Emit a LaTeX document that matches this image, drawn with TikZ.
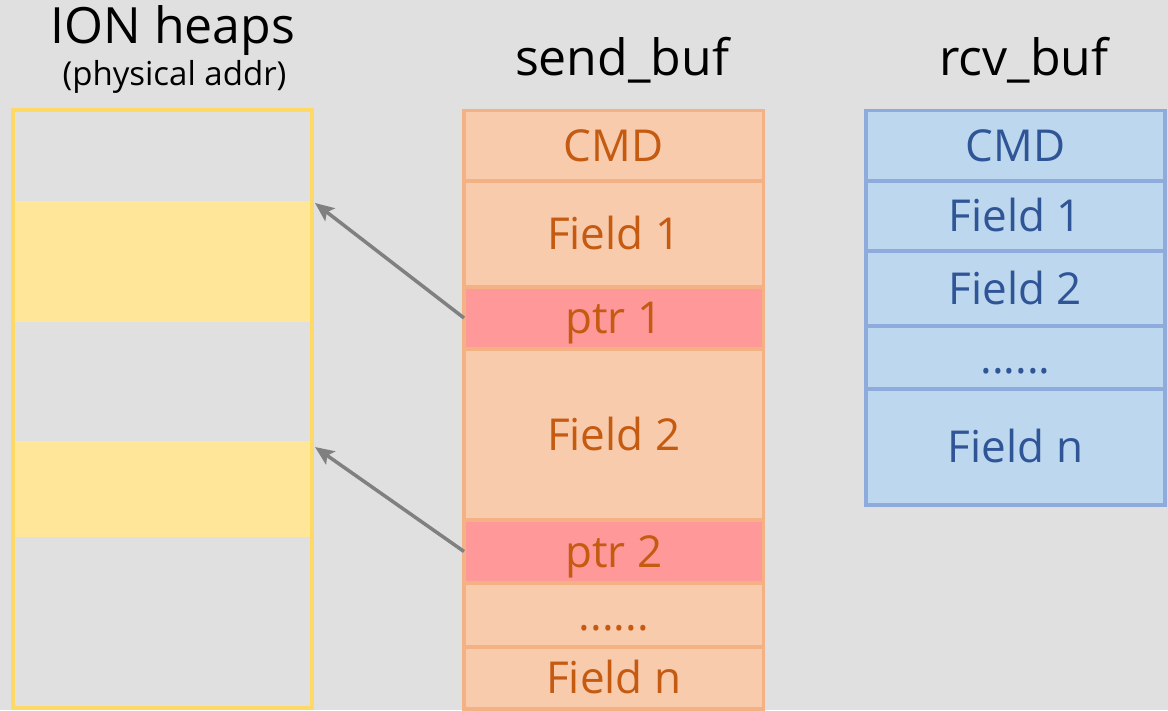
\documentclass[tikz,border=0pt]{standalone}
\usepackage{fontspec}
\setmainfont{Open Sans}
\usetikzlibrary{arrows.meta}
\definecolor{bg}{HTML}{E0E0E0}
\definecolor{heapline}{HTML}{FFD966}
\definecolor{heapfill}{HTML}{FFE699}
\definecolor{sendline}{HTML}{F4B183}
\definecolor{sendfill}{HTML}{F8CBAD}
\definecolor{ptrfill}{HTML}{FF9999}
\definecolor{sendtext}{HTML}{C55A11}
\definecolor{rcvline}{HTML}{8FAADC}
\definecolor{rcvfill}{HTML}{BDD7EE}
\definecolor{rcvtext}{HTML}{2F5597}
\definecolor{arrowgray}{HTML}{808080}
\newcommand\cellfont{\fontsize{44}{50}\selectfont}
\newcommand\titlefont{\fontsize{50}{56}\selectfont}
\newcommand\subtitlefont{\fontsize{33}{38}\selectfont}
\tikzset{
  cellbase/.style={line width=3.5pt, inner sep=0pt, outer sep=0pt, font=\cellfont,
    text height=31.4pt, text depth=0pt},
  sendcell/.style={cellbase, draw=sendline, fill=sendfill, text=sendtext, minimum width=299.5pt},
  ptrcell/.style={sendcell, fill=ptrfill},
  rcvcell/.style={cellbase, draw=rcvline, fill=rcvfill, text=rcvtext, minimum width=299pt},
  band/.style={fill=heapfill, draw=none, inner sep=0pt, outer sep=0pt, minimum width=298pt},
  heapbox/.style={draw=heapline, line width=3.5pt, inner sep=0pt, outer sep=0pt,
    minimum width=299pt, minimum height=598pt},
  title/.style={anchor=base, font=\titlefont, text=black, inner sep=0pt},
  subtitle/.style={anchor=base, font=\subtitlefont, text=black, inner sep=0pt},
  ptrarrow/.style={draw=arrowgray, line width=3.5pt,
    -{Stealth[length=19pt, width=16pt, inset=4pt]}},
}
\begin{document}
\begin{tikzpicture}[x=1pt, y=-1pt]
  \fill[bg] (0,0) rectangle (1168,710);
  \useasboundingbox (0,0) rectangle (1168,710);

  % titles
  \node[title] (tion) at (173,43) {ION heaps};
  \node[subtitle] (tphys) at (174.5,85) {(physical addr)};
  \node[title] (tsend) at (622,75) {send\_buf};
  \node[title] (trcv) at (1024,75) {rcv\_buf};

  % ION heaps
  \node[band, minimum height=121pt] (band1) at (164,261.5) {};
  \node[band, minimum height=96pt] (band2) at (164,489) {};
  \node[heapbox] (heap) at (162.5,409) {};

  % send_buf
  \node[sendcell, minimum height=70.5pt] (scmd) at (613.75,145.75) {CMD};
  \node[sendcell, minimum height=106pt] (sf1) at (613.75,234) {Field 1};
  \node[ptrcell, minimum height=62pt] (ptr1) at (613.75,318) {ptr 1};
  \node[sendcell, minimum height=171pt] (sf2) at (613.75,434.5) {Field 2};
  \node[ptrcell, minimum height=63pt] (ptr2) at (613.75,551.5) {ptr 2};
  \node[sendcell, minimum height=64pt] (sdots) at (613.75,615) {......};
  \node[sendcell, minimum height=62pt] (sfn) at (613.75,678) {Field n};

  % rcv_buf
  \node[rcvcell, minimum height=70.5pt] (rcmd) at (1015.5,145.75) {CMD};
  \node[rcvcell, minimum height=70pt] (rf1) at (1015.5,216) {Field 1};
  \node[rcvcell, minimum height=75pt] (rf2) at (1015.5,288.5) {Field 2};
  \node[rcvcell, minimum height=63pt] (rdots) at (1015.5,357.5) {......};
  \node[rcvcell, minimum height=116pt] (rfn) at (1015.5,447) {Field n};

  % pointers
  \draw[ptrarrow] (ptr1.west) -- ([xshift=2pt,yshift=-2pt]band1.north east);
  \draw[ptrarrow] (ptr2.west) -- ([xshift=2pt,yshift=-6pt]band2.north east);
\end{tikzpicture}
\end{document}
